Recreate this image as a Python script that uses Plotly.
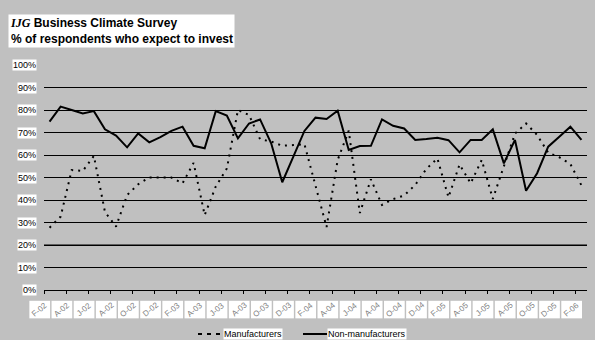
import plotly.graph_objects as go

# ---------------- data ----------------
tick_labels = ["F-02", "A-02", "J-02", "A-02", "O-02", "D-02",
               "F-03", "A-03", "J-03", "A-03", "O-03", "D-03",
               "F-04", "A-04", "J-04", "A-04", "O-04", "D-04",
               "F-05", "A-05", "J-05", "A-05", "O-05", "D-05",
               "F-06"]

# monthly observations Feb-02 .. Feb-06 (percent)
manufacturers = [27.7, 32.6, 53.3, 52.9, 59.6, 34.7, 28.2, 42.2, 47.0, 50.0,
                 50.0, 50.0, 47.4, 56.5, 33.3, 46.0, 54.0, 80.0, 77.8, 67.0,
                 66.0, 64.1, 64.4, 64.8, 46.4, 28.0, 57.8, 70.8, 34.2, 49.2,
                 37.8, 40.4, 42.0, 46.7, 53.8, 58.5, 41.2, 55.8, 47.4, 57.8,
                 40.5, 55.0, 69.5, 74.0, 68.9, 61.0, 59.0, 56.0, 46.5]

non_manufacturers = [74.8, 81.5, 80.0, 78.5, 79.5, 71.4, 68.6, 63.4, 69.6, 65.6,
                     67.9, 70.7, 72.6, 64.1, 63.0, 79.5, 77.5, 67.4, 74.0, 75.8,
                     65.2, 47.9, 59.3, 70.7, 76.6, 76.0, 79.7, 62.2, 64.0, 64.1,
                     75.8, 73.0, 71.8, 66.7, 67.1, 67.7, 66.6, 61.2, 66.7, 66.7,
                     71.4, 56.3, 66.7, 44.1, 51.9, 63.7, 68.1, 72.6, 66.7]

y_ticks = [0, 10, 20, 30, 40, 50, 60, 70, 80, 90, 100]

title_text = ('<b><i><span style="font-family:Liberation Serif, Times New Roman, serif">IJG</span></i>'
              ' Business Climate Survey<br>% of respondents who expect to invest</b>')

# ---------------- figure ----------------
SANS = "Liberation Sans, Arial, sans-serif"
BG = "#c0c0c0"

n = len(manufacturers)
xs = list(range(n))

fig = go.Figure()
fig.add_trace(go.Scatter(
    x=xs, y=[v / 100 for v in manufacturers], mode="lines",
    name="Manufacturers", line=dict(color="black", width=2, dash="2px,5px"),
    showlegend=False))
fig.add_trace(go.Scatter(
    x=xs, y=[v / 100 for v in non_manufacturers], mode="lines",
    name="Non-manufacturers", line=dict(color="black", width=2),
    showlegend=False))

# x ticks at category boundaries every 2 months
tick_pos = [i - 0.5 for i in range(0, n, 2)]

fig.update_layout(
    width=595, height=340,
    margin=dict(l=44, r=8, t=65, b=50),
    paper_bgcolor=BG, plot_bgcolor=BG,
    font=dict(family=SANS, size=9, color="black"),
    xaxis=dict(range=[-0.5, n - 0.5], showgrid=False, zeroline=False,
               showline=True, linecolor="black", linewidth=1,
               tickmode="array", tickvals=tick_pos, ticks="outside",
               ticklen=3, tickcolor="black", tickwidth=1,
               showticklabels=False, fixedrange=True),
    yaxis=dict(range=[0, 1], tickmode="array", tickvals=[t / 100 for t in y_ticks],
               showgrid=True, gridcolor="black", gridwidth=1, zeroline=False,
               showline=False, showticklabels=False, fixedrange=True),
)


def xpaper(cat):
    """map a category position to paper x (axis range is [-0.5, n-0.5])"""
    return (cat + 0.5) / n


shapes = []
# grey-rendered gridlines
shapes.append(dict(type="line", xref="paper", yref="y", x0=0, x1=1, y0=0.9, y1=0.9,
                   line=dict(color="#5a5a5a", width=1), layer="below"))
shapes.append(dict(type="line", xref="paper", yref="y", x0=0, x1=1, y0=0.2, y1=0.2,
                   line=dict(color="#5e5e5e", width=2), layer="below"))

annotations = []
# y tick labels with white boxes
for t in y_ticks:
    annotations.append(dict(xref="paper", yref="y", x=0, y=t / 100, xshift=-7,
                            xanchor="right", yanchor="middle", showarrow=False,
                            text=f"{t}%", bgcolor="white", borderpad=0,
                            font=dict(family=SANS, size=9, color="black")))

# x tick labels: white boxes with rotated grey text
for k, lab in enumerate(tick_labels):
    c = 2 * k
    shapes.append(dict(type="rect", xref="paper", yref="paper",
                       x0=xpaper(c - 1.82), x1=xpaper(c + 0.05),
                       y0=-0.126, y1=-0.048, fillcolor="white",
                       line=dict(width=0), layer="above"))
    annotations.append(dict(xref="paper", yref="paper", x=xpaper(c - 0.885), y=-0.087,
                            xanchor="center", yanchor="middle", showarrow=False,
                            text=lab, textangle=-40,
                            font=dict(family=SANS, size=8, color="#808080")))

# title box
annotations.append(dict(xref="paper", yref="paper", x=(8 - 44) / 543, y=(290 - 14) / 225,
                        xanchor="left", yanchor="top", align="left", showarrow=False,
                        text=title_text, bgcolor="white", borderpad=1,
                        font=dict(family=SANS, size=12, color="black")))

# manual legend
ly = (290 - 334) / 225
shapes.append(dict(type="line", xref="paper", yref="paper",
                   x0=(198 - 44) / 543, x1=(222 - 44) / 543, y0=ly, y1=ly,
                   line=dict(color="black", width=2, dash="4px,5px")))
annotations.append(dict(xref="paper", yref="paper", x=(223 - 44) / 543, y=ly,
                        xanchor="left", yanchor="middle", showarrow=False,
                        text="Manufacturers", bgcolor="white", borderpad=0,
                        font=dict(family=SANS, size=9, color="black")))
shapes.append(dict(type="line", xref="paper", yref="paper",
                   x0=(303 - 44) / 543, x1=(327 - 44) / 543, y0=ly, y1=ly,
                   line=dict(color="black", width=2)))
annotations.append(dict(xref="paper", yref="paper", x=(327 - 44) / 543, y=ly,
                        xanchor="left", yanchor="middle", showarrow=False,
                        text="Non-manufacturers", bgcolor="white", borderpad=0,
                        font=dict(family=SANS, size=9, color="black")))

fig.update_layout(shapes=shapes, annotations=annotations)
fig.write_html("out.html")
